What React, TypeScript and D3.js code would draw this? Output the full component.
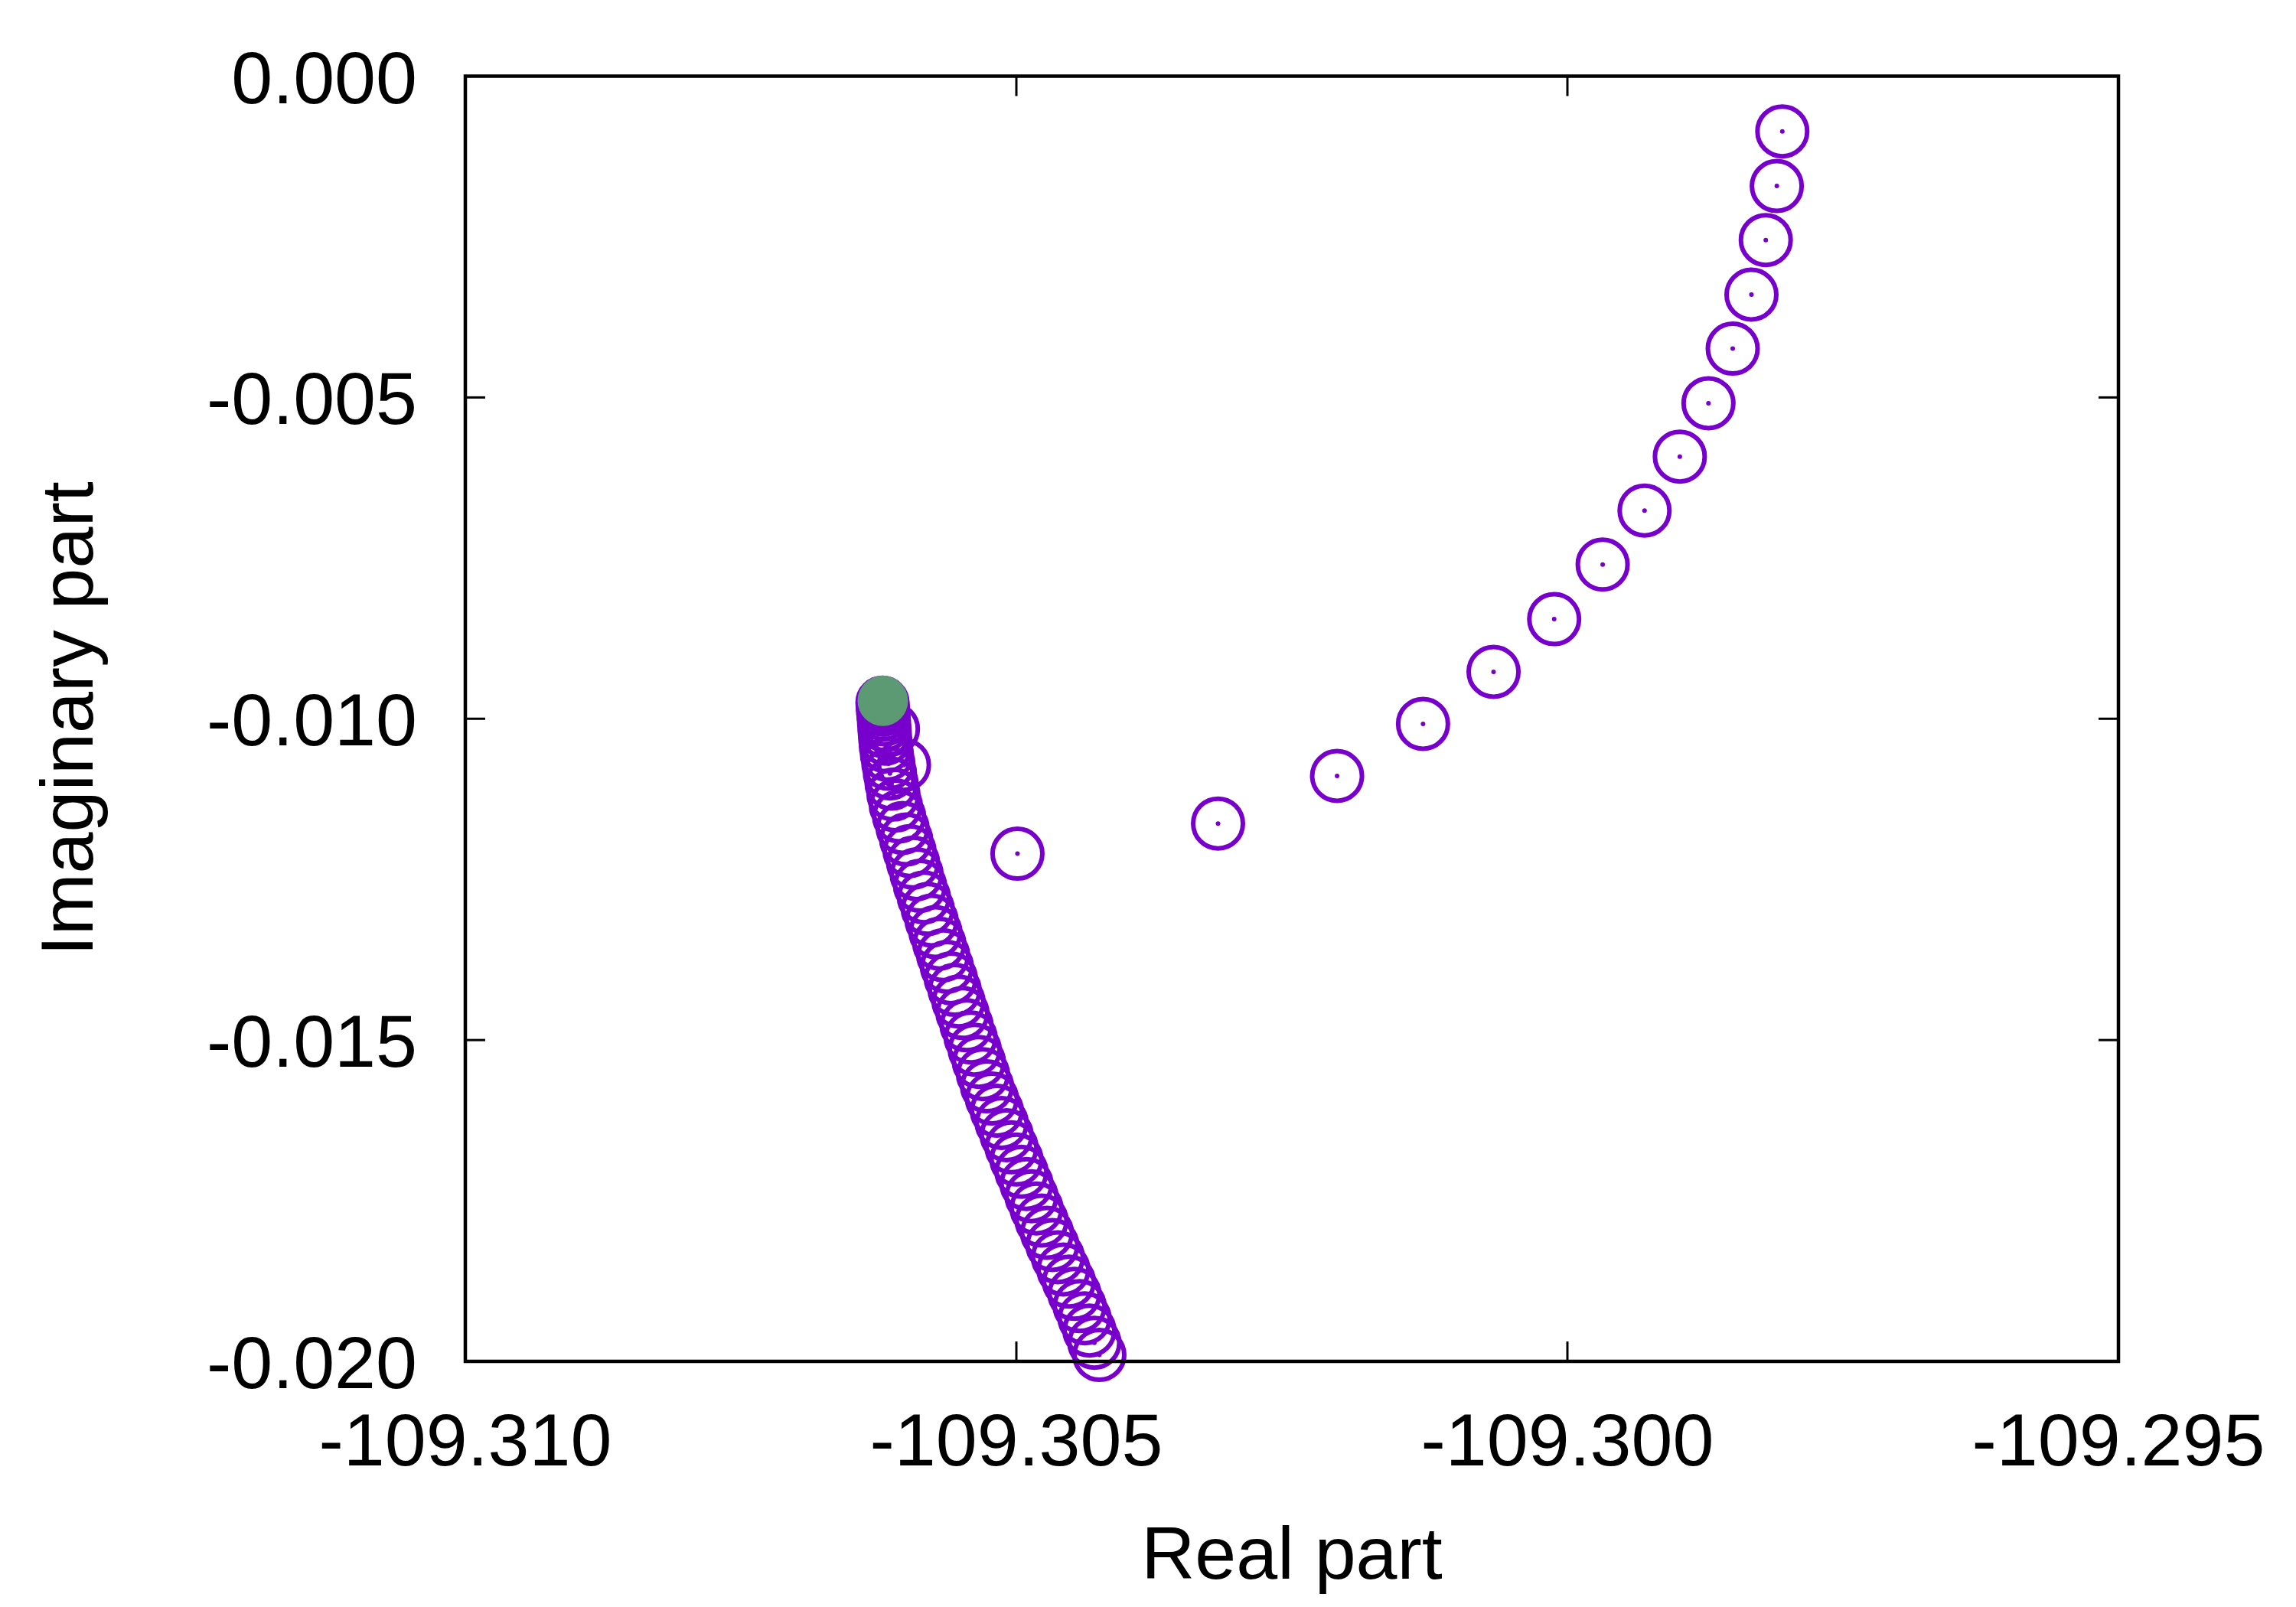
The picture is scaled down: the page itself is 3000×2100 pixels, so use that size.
import * as d3 from "d3";
import React from "react";

// upper branch (sparse points coming down from the top right)
const upperRe = [
  -109.29805, -109.2981, -109.2982, -109.29833, -109.2985, -109.29872, -109.29898,
  -109.2993, -109.29968, -109.30012, -109.30067, -109.30131, -109.30209, -109.30317,
  -109.30499, -109.30602, -109.30612,
];
const upperIm = [
  -0.00086, -0.00171, -0.00255, -0.0034, -0.00424, -0.00509, -0.00592, -0.00676,
  -0.0076, -0.00845, -0.00927, -0.01008, -0.01089, -0.01163, -0.0121, -0.01072,
  -0.01016,
];

// lower branch (dense points)
const lowerRe = [
  -109.306215, -109.306213, -109.30621, -109.306207, -109.306203, -109.306199,
  -109.306195, -109.30619, -109.306184, -109.306174, -109.306161, -109.306147,
  -109.306132, -109.306115, -109.306094, -109.306064, -109.306032, -109.306,
  -109.305969, -109.305937, -109.305905, -109.305874, -109.305839, -109.305804,
  -109.305769, -109.305734, -109.305699, -109.305664, -109.30563, -109.305595,
  -109.30556, -109.305525, -109.305489, -109.305452, -109.305415, -109.305378,
  -109.30534, -109.305303, -109.305266, -109.305222, -109.305177, -109.305133,
  -109.305088, -109.305044, -109.304999, -109.304954, -109.304908, -109.304863,
  -109.304817, -109.304771, -109.304722, -109.304673, -109.304623, -109.304573,
  -109.304523, -109.304473, -109.304426, -109.304381, -109.304337, -109.304292,
  -109.304247,
];
const lowerIm = [
  -0.00975, -0.0098, -0.00986, -0.00993, -0.01001, -0.0101, -0.0102, -0.01031,
  -0.01043, -0.01056, -0.0107, -0.01085, -0.01101, -0.01118, -0.01135, -0.01152,
  -0.0117, -0.01188, -0.01206, -0.01224, -0.01242, -0.0126, -0.01278, -0.01296,
  -0.01314, -0.01332, -0.0135, -0.01368, -0.01386, -0.01404, -0.01422, -0.0144,
  -0.01458, -0.01477, -0.01496, -0.01515, -0.01534, -0.01553, -0.01572, -0.01591,
  -0.0161, -0.01629, -0.01648, -0.01667, -0.01686, -0.01705, -0.01724, -0.01743,
  -0.01762, -0.01781, -0.018, -0.01819, -0.01838, -0.01857, -0.01876, -0.01895,
  -0.01914, -0.01933, -0.01952, -0.01971, -0.0199,
];

// limit point
const fixedRe = [-109.306212];
const fixedIm = [-0.00972];

const xTicks = [-109.31, -109.305, -109.3, -109.295];
const yTicks = [0, -0.005, -0.01, -0.015, -0.02];

const FONT = "'Liberation Sans', Arial, Helvetica, sans-serif";
const PURPLE = "#7800cc";

export default function App() {
  const ref = React.useRef<SVGSVGElement>(null);

  React.useEffect(() => {
    if (!ref.current) return;
    const svg = d3.select(ref.current);
    svg.selectAll("*").remove();

    const left = 608,
      right = 2768,
      top = 99.5,
      bottom = 1779;

    const x = d3.scaleLinear().domain([-109.31, -109.295]).range([left, right]);
    const y = d3.scaleLinear().domain([-0.02, 0]).range([bottom, top]);

    svg.append("rect").attr("width", 3000).attr("height", 2100).attr("fill", "white");

    // ticks, mirrored on all sides, pointing inward
    const tickLen = 26;
    const ticks = svg.append("g").attr("stroke", "black").attr("stroke-width", 3);
    xTicks.forEach((t) => {
      ticks.append("line").attr("x1", x(t)).attr("x2", x(t)).attr("y1", bottom).attr("y2", bottom - tickLen);
      ticks.append("line").attr("x1", x(t)).attr("x2", x(t)).attr("y1", top).attr("y2", top + tickLen);
    });
    yTicks.forEach((t) => {
      ticks.append("line").attr("x1", left).attr("x2", left + tickLen).attr("y1", y(t)).attr("y2", y(t));
      ticks.append("line").attr("x1", right).attr("x2", right - tickLen).attr("y1", y(t)).attr("y2", y(t));
    });

    // tick labels
    svg
      .append("g")
      .selectAll("text")
      .data(xTicks)
      .enter()
      .append("text")
      .attr("x", (d) => x(d))
      .attr("y", bottom + 136)
      .attr("text-anchor", "middle")
      .attr("font-family", FONT)
      .attr("font-size", 97)
      .text((d) => d3.format(".3f")(d).replace("−", "-"));

    svg
      .append("g")
      .selectAll("text")
      .data(yTicks)
      .enter()
      .append("text")
      .attr("x", left - 63)
      .attr("y", (d) => y(d) + 35)
      .attr("text-anchor", "end")
      .attr("font-family", FONT)
      .attr("font-size", 97)
      .text((d) => d3.format(".3f")(d).replace("−", "-"));

    // axis titles
    svg
      .append("text")
      .attr("x", (left + right) / 2)
      .attr("y", 2063)
      .attr("text-anchor", "middle")
      .attr("font-family", FONT)
      .attr("font-size", 97)
      .text("Real part");

    svg
      .append("text")
      .attr("transform", `translate(121,${(top + bottom) / 2}) rotate(-90)`)
      .attr("text-anchor", "middle")
      .attr("font-family", FONT)
      .attr("font-size", 97)
      .text("Imaginary part");

    // points
    const pts = [
      ...upperRe.map((re, i) => [re, upperIm[i]]),
      ...lowerRe.map((re, i) => [re, lowerIm[i]]),
    ];
    const g = svg.append("g");
    g.selectAll("circle.ring")
      .data(pts)
      .enter()
      .append("circle")
      .attr("class", "ring")
      .attr("cx", (d) => x(d[0]))
      .attr("cy", (d) => y(d[1]))
      .attr("r", 32.5)
      .attr("fill", "none")
      .attr("stroke", PURPLE)
      .attr("stroke-width", 6);
    g.selectAll("circle.dot")
      .data(pts)
      .enter()
      .append("circle")
      .attr("class", "dot")
      .attr("cx", (d) => x(d[0]))
      .attr("cy", (d) => y(d[1]))
      .attr("r", 3)
      .attr("fill", PURPLE);

    // limit point
    svg
      .append("g")
      .selectAll("circle")
      .data(fixedRe.map((re, i) => [re, fixedIm[i]]))
      .enter()
      .append("circle")
      .attr("cx", (d) => x(d[0]))
      .attr("cy", (d) => y(d[1]))
      .attr("r", 33)
      .attr("fill", "#5b9a72");

    // frame
    svg
      .append("rect")
      .attr("x", left)
      .attr("y", top)
      .attr("width", right - left)
      .attr("height", bottom - top)
      .attr("fill", "none")
      .attr("stroke", "black")
      .attr("stroke-width", 4.5);
  }, []);

  return (
    <svg
      ref={ref}
      width={3000}
      height={2100}
      style={{ position: "absolute", left: 0, top: 0 }}
    />
  );
}
